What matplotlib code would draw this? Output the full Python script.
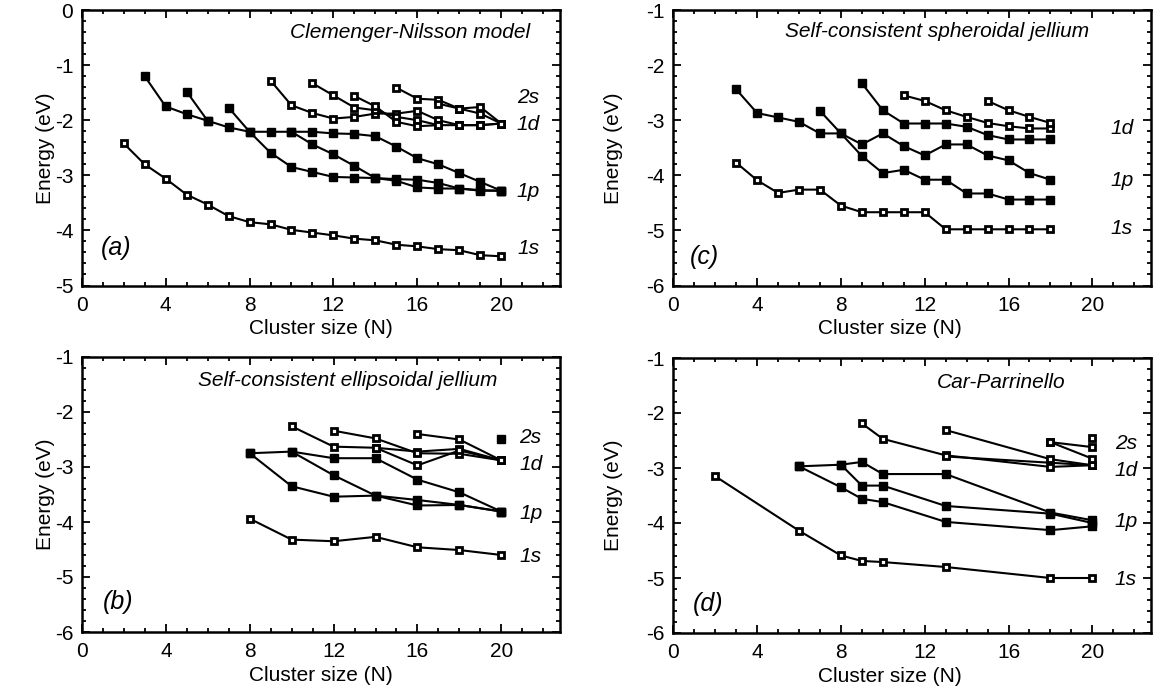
"""Single-particle levels vs cluster size: four models, 2x2 panels"""
import matplotlib
matplotlib.use("Agg")
import matplotlib.pyplot as plt
from matplotlib.ticker import MultipleLocator

plt.rcParams["font.family"] = ["Liberation Sans", "DejaVu Sans"]
plt.rcParams["axes.unicode_minus"] = False   # plain hyphen minus like the original

# ---- (a) Clemenger-Nilsson model ----
a_1s_n = [2, 3, 4, 5, 6, 7, 8, 9, 10, 11, 12, 13, 14, 15, 16, 17, 18, 19, 20]
a_1s_e = [-2.42, -2.80, -3.06, -3.35, -3.53, -3.74, -3.85, -3.89, -3.99, -4.04,
          -4.09, -4.15, -4.18, -4.26, -4.29, -4.34, -4.36, -4.45, -4.47]
a_1p_n1 = [3, 4, 5, 6, 7, 8, 9, 10, 11, 12, 13, 14, 15, 16, 17, 18, 19, 20]
a_1p_e1 = [-1.20, -1.75, -1.89, -2.01, -2.13, -2.21, -2.21, -2.21, -2.21, -2.24,
           -2.25, -2.29, -2.48, -2.69, -2.80, -2.96, -3.12, -3.28]
a_1p_n2 = [5, 6]
a_1p_e2 = [-1.48, -2.01]
a_1p_n3 = [7, 8, 9, 10, 11, 12, 13, 14, 15, 16, 17, 18, 19, 20]
a_1p_e3 = [-1.77, -2.21, -2.59, -2.85, -2.94, -3.03, -3.04, -3.05, -3.07, -3.08,
           -3.14, -3.24, -3.27, -3.28]
a_1p_n4 = [10, 11, 12, 13, 14, 15, 16, 17, 18, 19, 20]
a_1p_e4 = [-2.21, -2.44, -2.62, -2.83, -3.05, -3.10, -3.22, -3.24, -3.24, -3.28, -3.28]
a_1d_n1 = [9, 10, 11, 12, 13, 14, 15, 16, 17, 18, 19, 20]
a_1d_e1 = [-1.28, -1.73, -1.87, -1.97, -1.94, -1.88, -1.88, -1.83, -2.00, -2.09, -2.09, -2.06]
a_1d_n2 = [11, 12, 13, 14, 15, 16, 17, 18, 19, 20]
a_1d_e2 = [-1.33, -1.55, -1.77, -1.82, -1.94, -2.00, -2.09, -2.09, -2.09, -2.06]
a_1d_n3 = [13, 14, 15, 16, 17]
a_1d_e3 = [-1.56, -1.75, -2.03, -2.11, -2.09]
a_2s_n1 = [15, 16, 17, 18, 19, 20]
a_2s_e1 = [-1.41, -1.61, -1.63, -1.79, -1.88, -2.06]
a_2s_n2 = [17, 18, 19, 20]
a_2s_e2 = [-1.70, -1.79, -1.76, -2.06]

# ---- (b) self-consistent ellipsoidal jellium ----
b_1s_n = [8, 10, 12, 14, 16, 18, 20]
b_1s_e = [-3.94, -4.32, -4.35, -4.27, -4.46, -4.51, -4.60]
b_1p_n1 = [8, 10, 12, 14, 16, 18, 20]
b_1p_e1 = [-2.75, -2.72, -2.84, -2.84, -3.23, -3.46, -3.81]
b_1p_n2 = [10, 12, 14, 16, 18, 20]
b_1p_e2 = [-2.72, -3.15, -3.52, -3.60, -3.69, -3.81]
b_1p_n3 = [8, 10, 12, 14, 16, 18, 20]
b_1p_e3 = [-2.75, -3.35, -3.54, -3.52, -3.70, -3.69, -3.81]
b_1d_n1 = [10, 12, 14, 16, 18, 20]
b_1d_e1 = [-2.26, -2.63, -2.65, -2.72, -2.67, -2.88]
b_1d_n2 = [12, 14, 16, 18, 20]
b_1d_e2 = [-2.34, -2.48, -2.75, -2.76, -2.88]
b_1d_n3 = [14, 16, 18, 20]
b_1d_e3 = [-2.65, -2.97, -2.70, -2.88]
b_1d_n4 = [16, 18, 20]
b_1d_e4 = [-2.40, -2.50, -2.88]
b_2s_n = [20]
b_2s_e = [-2.50]

# ---- (c) self-consistent spheroidal jellium ----
c_1s_n = [3, 4, 5, 6, 7, 8, 9, 10, 11, 12, 13, 14, 15, 16, 17, 18]
c_1s_e = [-3.77, -4.09, -4.32, -4.26, -4.26, -4.55, -4.67, -4.67, -4.67, -4.67,
          -4.98, -4.98, -4.98, -4.98, -4.98, -4.98]
c_1p_n1 = [3, 4, 5, 6, 7, 8, 9, 10, 11, 12, 13, 14, 15, 16, 17, 18]
c_1p_e1 = [-2.44, -2.87, -2.95, -3.03, -3.24, -3.24, -3.44, -3.24, -3.47, -3.64,
           -3.44, -3.44, -3.64, -3.73, -3.96, -4.08]
c_1p_n2 = [7, 8, 9, 10, 11, 12, 13, 14, 15, 16, 17, 18]
c_1p_e2 = [-2.83, -3.24, -3.65, -3.96, -3.90, -4.08, -4.08, -4.33, -4.33, -4.44, -4.44, -4.44]
c_1p_n3 = [9, 10, 11, 12, 13, 14, 15, 16, 17, 18]
c_1p_e3 = [-2.33, -2.82, -3.06, -3.06, -3.06, -3.12, -3.27, -3.35, -3.35, -3.35]
c_1d_n1 = [11, 12, 13, 14, 15, 16, 17, 18]
c_1d_e1 = [-2.55, -2.65, -2.82, -2.94, -3.05, -3.11, -3.15, -3.15]
c_1d_n2 = [15, 16, 17, 18]
c_1d_e2 = [-2.65, -2.82, -2.94, -3.05]

# ---- (d) Car-Parrinello ----
d_1s_n = [2, 6, 8, 9, 10, 13, 18, 20]
d_1s_e = [-3.15, -4.14, -4.59, -4.69, -4.71, -4.80, -5.00, -5.00]
d_1p_n1 = [6, 8, 9, 10, 13, 18, 20]
d_1p_e1 = [-2.97, -2.94, -2.89, -3.11, -3.11, -3.81, -3.95]
d_1p_n2 = [8, 9, 10, 13, 18, 20]
d_1p_e2 = [-2.94, -3.32, -3.32, -3.69, -3.83, -4.00]
d_1p_n3 = [6, 8, 9, 10, 13, 18, 20]
d_1p_e3 = [-2.97, -3.35, -3.56, -3.62, -3.98, -4.13, -4.06]
d_1d_n1 = [9, 10, 13, 18, 20]
d_1d_e1 = [-2.19, -2.47, -2.77, -2.98, -2.95]
d_1d_n2 = [13, 18, 20]
d_1d_e2 = [-2.31, -2.84, -2.95]
d_1d_n3 = [13, 20]
d_1d_e3 = [-2.79, -2.95]
d_2s_n1 = [18, 20]
d_2s_e1 = [-2.53, -2.62]
d_2s_n2 = [18, 20]
d_2s_e2 = [-2.53, -2.83]
d_2s_n3 = [20]
d_2s_e3 = [-2.45]

LEVELS = ["2s", "1d", "1p", "1s"]


def curve(ax, n, e, filled):
    if filled:
        ax.plot(n, e, "-s", color="black", lw=1.5, ms=5.6, mfc="black", mec="black", zorder=3)
    else:
        # black frame with a small white hole, like the scanned open squares
        ax.plot(n, e, "-s", color="black", lw=1.5, ms=4.0, mfc="white", mec="black",
                mew=2.0, zorder=3)


def style(ax, ylim, ylabel_x, xlabel_x):
    ax.set_xlim(0, 22.8)
    ax.set_ylim(*ylim)
    ax.xaxis.set_major_locator(MultipleLocator(4))
    ax.xaxis.set_minor_locator(MultipleLocator(1))
    ax.yaxis.set_major_locator(MultipleLocator(1))
    ax.yaxis.set_minor_locator(MultipleLocator(0.2))
    ax.tick_params(which="both", direction="in", top=True, right=True, width=1.3,
                   labelsize=15)
    ax.tick_params(axis="x", pad=7.5)
    ax.tick_params(axis="y", pad=6)
    ax.tick_params(which="major", length=6)
    ax.tick_params(which="minor", length=3)
    for s in ax.spines.values():
        s.set_linewidth(1.8)
    ax.set_xlabel("Cluster size (N)", fontsize=15, va="top")
    ax.set_ylabel("Energy (eV)", fontsize=15)
    ax.xaxis.set_label_coords(xlabel_x, -0.122)
    ax.yaxis.set_label_coords(ylabel_x, 0.5)


def labels(ax, x, ys, names):
    for y, t in zip(ys, names):
        ax.text(x, y, t, fontsize=15, style="italic", ha="center", va="center")


fig = plt.figure(figsize=(11.53, 6.89), dpi=100)
W, H = 1153.0, 689.0


def add_axes(left, top, right, bottom):
    return fig.add_axes([left / W, 1 - bottom / H, (right - left) / W, (bottom - top) / H])


ax_a = add_axes(81.7, 10, 560, 285.5)
ax_c = add_axes(673.3, 10, 1151, 285.5)
ax_b = add_axes(82, 357, 560, 632)
ax_d = add_axes(673.3, 358, 1151, 633)

# (a)
for n, e in [(a_1s_n, a_1s_e), (a_1d_n1, a_1d_e1), (a_1d_n2, a_1d_e2), (a_1d_n3, a_1d_e3),
             (a_2s_n1, a_2s_e1), (a_2s_n2, a_2s_e2)]:
    curve(ax_a, n, e, False)
for n, e in [(a_1p_n1, a_1p_e1), (a_1p_n2, a_1p_e2), (a_1p_n3, a_1p_e3), (a_1p_n4, a_1p_e4)]:
    curve(ax_a, n, e, True)
style(ax_a, (-5, 0), -0.056, 0.5)
labels(ax_a, 21.3, [-1.58, -2.07, -3.30, -4.33], LEVELS)
ax_a.text(0.937, 0.917, "Clemenger-Nilsson model", transform=ax_a.transAxes, fontsize=15,
          style="italic", ha="right", va="center")
ax_a.text(0.073, 0.135, "(a)", transform=ax_a.transAxes, fontsize=18, style="italic",
          ha="center", va="center")

# (b)
for n, e in [(b_1s_n, b_1s_e), (b_1d_n1, b_1d_e1), (b_1d_n2, b_1d_e2), (b_1d_n3, b_1d_e3),
             (b_1d_n4, b_1d_e4)]:
    curve(ax_b, n, e, False)
for n, e in [(b_1p_n1, b_1p_e1), (b_1p_n2, b_1p_e2), (b_1p_n3, b_1p_e3), (b_2s_n, b_2s_e)]:
    curve(ax_b, n, e, True)
style(ax_b, (-6, -1), -0.056, 0.5)
labels(ax_b, 21.4, [-2.47, -2.96, -3.84, -4.63], LEVELS)
ax_b.text(0.870, 0.916, "Self-consistent ellipsoidal jellium", transform=ax_b.transAxes,
          fontsize=15, style="italic", ha="right", va="center")
ax_b.text(0.075, 0.11, "(b)", transform=ax_b.transAxes, fontsize=18, style="italic",
          ha="center", va="center")

# (c)
for n, e in [(c_1s_n, c_1s_e), (c_1d_n1, c_1d_e1), (c_1d_n2, c_1d_e2)]:
    curve(ax_c, n, e, False)
for n, e in [(c_1p_n1, c_1p_e1), (c_1p_n2, c_1p_e2), (c_1p_n3, c_1p_e3)]:
    curve(ax_c, n, e, True)
style(ax_c, (-6, -1), -0.105, 0.453)
labels(ax_c, 21.4, [-3.15, -4.09, -4.96], LEVELS[1:])
ax_c.text(0.871, 0.921, "Self-consistent spheroidal jellium", transform=ax_c.transAxes,
          fontsize=15, style="italic", ha="right", va="center")
ax_c.text(0.066, 0.105, "(c)", transform=ax_c.transAxes, fontsize=18, style="italic",
          ha="center", va="center")

# (d)
for n, e in [(d_1s_n, d_1s_e), (d_1d_n1, d_1d_e1), (d_1d_n2, d_1d_e2), (d_1d_n3, d_1d_e3),
             (d_2s_n1, d_2s_e1), (d_2s_n2, d_2s_e2), (d_2s_n3, d_2s_e3)]:
    curve(ax_d, n, e, False)
for n, e in [(d_1p_n1, d_1p_e1), (d_1p_n2, d_1p_e2), (d_1p_n3, d_1p_e3)]:
    curve(ax_d, n, e, True)
style(ax_d, (-6, -1), -0.105, 0.453)
labels(ax_d, 21.6, [-2.56, -3.05, -3.98, -5.02], LEVELS)
ax_d.text(0.687, 0.91, "Car-Parrinello", transform=ax_d.transAxes, fontsize=15,
          style="italic", ha="center", va="center")
ax_d.text(0.072, 0.105, "(d)", transform=ax_d.transAxes, fontsize=18, style="italic",
          ha="center", va="center")

fig.savefig("out.png", dpi=100)
print("saved out.png")
